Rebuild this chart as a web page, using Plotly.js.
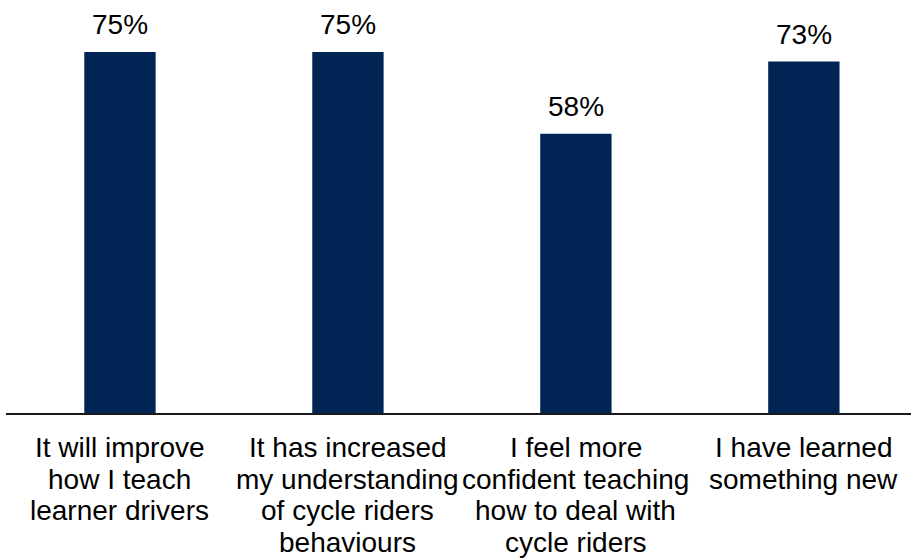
<!DOCTYPE html>
<html>
<head>
<meta charset="utf-8">
<script src="https://cdn.plot.ly/plotly-3.0.1.min.js"></script>
<style>html,body{margin:0;padding:0;background:#fff;}#chart{width:911px;height:558px;}</style>
</head>
<body>
<div id="chart"></div>
<script>
// Data
var categories = [
  "It will improve how I teach learner drivers",
  "It has increased my understanding of cycle riders behaviours",
  "I feel more confident teaching how to deal with cycle riders",
  "I have learned something new"
];
var labelLines = [
  ["It will improve", "how I teach", "learner drivers"],
  ["It has increased", "my understanding", "of cycle riders", "behaviours"],
  ["I feel more", "confident teaching", "how to deal with", "cycle riders"],
  ["I have learned", "something new"]
];
var values = [75, 75, 58, 73];
var valueLabels = ["75%", "75%", "58%", "73%"];

var FONT = "'Liberation Sans', Arial, sans-serif";
var FS = 28;
var LINE = 31.7;

var annotations = [];
// value labels above bars
values.forEach(function (v, i) {
  annotations.push({
    x: i, y: v, xref: 'x', yref: 'y',
    text: valueLabels[i], showarrow: false,
    xanchor: 'center', yanchor: 'bottom', yshift: 10,
    font: {family: FONT, size: FS, color: '#000'}
  });
});
// category labels, one annotation per line for tight spacing
labelLines.forEach(function (lines, i) {
  lines.forEach(function (t, j) {
    annotations.push({
      x: i, y: 0, xref: 'x', yref: 'paper',
      text: t, showarrow: false,
      xanchor: 'center', yanchor: 'top', yshift: -17 - j * LINE,
      font: {family: FONT, size: FS, color: '#000'}
    });
  });
});

var trace = {
  type: 'bar',
  x: categories.map(function (_, i) { return i; }),
  y: values,
  marker: {color: '#002554'},
  width: 0.313,
  hoverinfo: 'skip'
};

var layout = {
  width: 911, height: 558,
  margin: {l: 6, r: 0, t: 0, b: 145, pad: 0},
  paper_bgcolor: '#fff', plot_bgcolor: '#fff',
  showlegend: false,
  xaxis: {
    type: 'linear',
    range: [-0.5, 3.47],
    showgrid: false, zeroline: false,
    showticklabels: false, ticks: '',
    showline: true, linecolor: '#1a1a1a', linewidth: 2
  },
  yaxis: {
    range: [0, 85.8],
    showgrid: false, zeroline: false,
    showticklabels: false, ticks: '', showline: false
  },
  annotations: annotations,
  font: {family: FONT, size: FS, color: '#000'}
};

Plotly.newPlot('chart', [trace], layout, {staticPlot: true, displayModeBar: false});
</script>
</body>
</html>
